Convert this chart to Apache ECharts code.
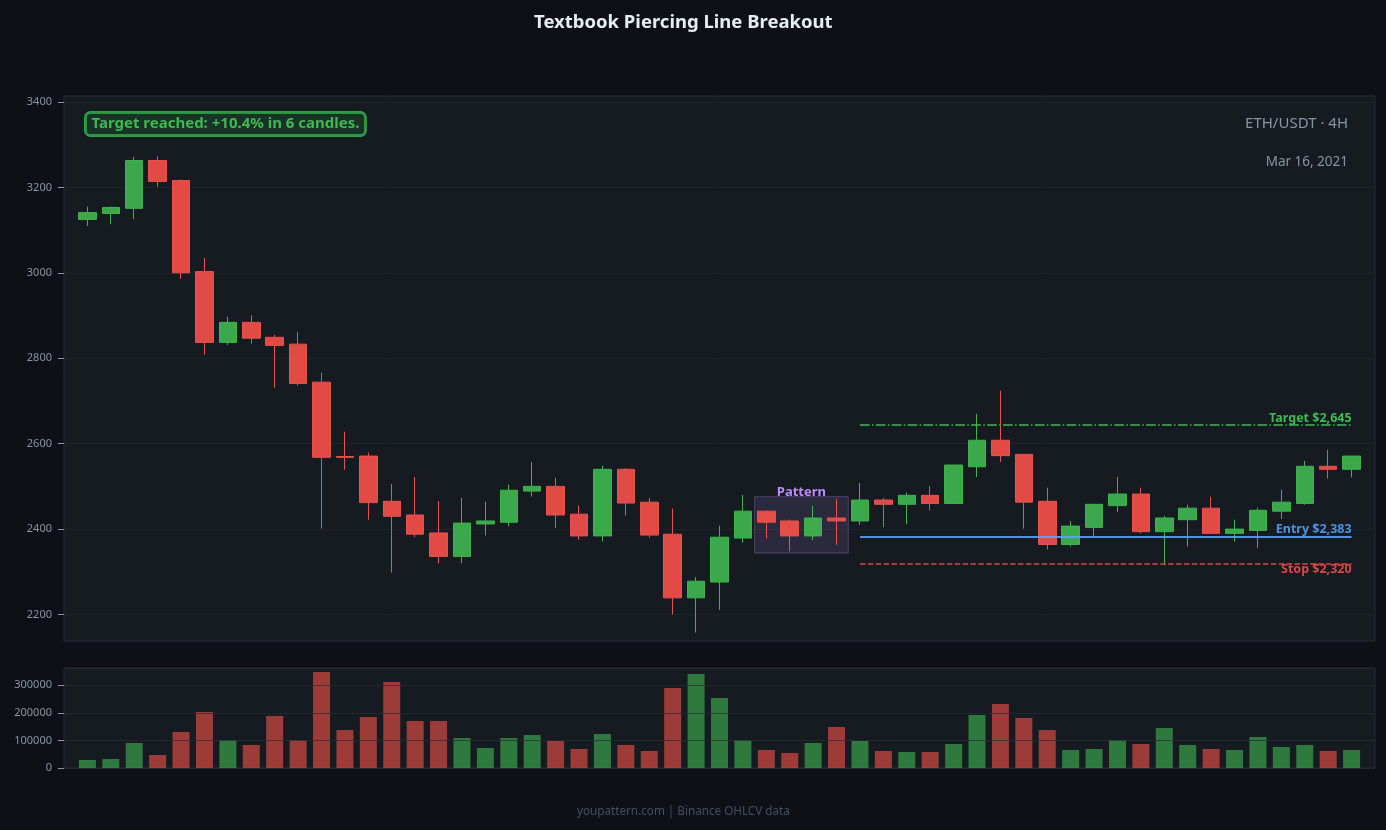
<!DOCTYPE html>
<html>
<head>
<meta charset="utf-8">
<title>Textbook Piercing Line Breakout</title>
<script src="https://cdn.jsdelivr.net/npm/echarts@6/dist/echarts.min.js"></script>
<style>
  html, body { margin: 0; padding: 0; background: #0d1117; }
  #chart { width: 1386px; height: 830px; }
</style>
</head>
<body>
<div id="chart"></div>
<script>
var opens  = [3125, 3139, 3151, 3263, 3216, 3003, 2837, 2884, 2849, 2833,
              2744, 2570, 2571, 2465, 2433, 2391, 2336, 2412, 2416, 2489,
              2500, 2435, 2384, 2540, 2463, 2388, 2239, 2276, 2379, 2442,
              2419, 2384, 2426, 2419, 2468, 2458, 2479, 2460, 2546, 2608,
              2575, 2465, 2364, 2404, 2455, 2482, 2394, 2422, 2449, 2390,
              2397, 2442, 2460, 2547, 2540];
var closes = [3141, 3153, 3263, 3214, 3000, 2837, 2884, 2847, 2830, 2741,
              2568, 2568, 2462, 2430, 2388, 2336, 2414, 2419, 2491, 2500,
              2433, 2384, 2540, 2461, 2386, 2239, 2278, 2381, 2442, 2416,
              2384, 2426, 2419, 2468, 2458, 2479, 2460, 2550, 2608, 2572,
              2463, 2364, 2407, 2458, 2482, 2394, 2426, 2449, 2390, 2400,
              2444, 2463, 2547, 2540, 2571];
var lows   = [3110, 3114, 3126, 3201, 2986, 2808, 2831, 2834, 2731, 2736,
              2401, 2539, 2422, 2298, 2381, 2320, 2320, 2385, 2406, 2476,
              2403, 2375, 2371, 2432, 2380, 2200, 2158, 2211, 2368, 2378,
              2348, 2374, 2363, 2410, 2404, 2412, 2444, 2460, 2522, 2557,
              2401, 2352, 2359, 2384, 2440, 2390, 2315, 2359, 2390, 2371,
              2356, 2424, 2457, 2518, 2521];
var highs  = [3155, 3155, 3271, 3273, 3219, 3035, 2897, 2901, 2855, 2862,
              2766, 2628, 2579, 2506, 2522, 2466, 2473, 2464, 2504, 2557,
              2520, 2455, 2548, 2543, 2473, 2448, 2288, 2408, 2480, 2444,
              2422, 2455, 2471, 2508, 2473, 2486, 2501, 2550, 2670, 2724,
              2575, 2497, 2419, 2458, 2522, 2497, 2431, 2457, 2476, 2422,
              2450, 2492, 2560, 2586, 2571];
var volumes = [29000, 32700, 90700, 47200, 130700, 203200, 101600, 83500, 188700, 101600,
               348400, 137900, 185100, 312100, 170600, 170600, 108900, 72600, 108900, 119800,
               98000, 69000, 123400, 83500, 61700, 290300, 341200, 254000, 101600, 65300,
               54400, 90700, 148800, 98000, 61700, 58100, 58100, 87100, 192400, 232300,
               181500, 137900, 65300, 69000, 101600, 87100, 145200, 83500, 69000, 65300,
               112500, 76200, 83500, 61700, 65300];

var patternRange = [28.5, 32.5];     // candle index span of the pattern
var levelStart = 33, levelEnd = 54;  // trade levels drawn after the pattern
var targetPrice = 2645, entryPrice = 2383, stopPrice = 2320;

var UP = '#3fb950', DOWN = '#f85149';
var TEXT = '#8b949e';

var candleData = [];
var volData = [];
for (var i = 0; i < opens.length; i++) {
    candleData.push([i, opens[i], closes[i], lows[i], highs[i]]);
    var up = closes[i] >= opens[i];
    volData.push({
        value: [i, volumes[i]],
        itemStyle: { color: up ? 'rgba(63,185,80,0.6)' : 'rgba(248,81,73,0.6)' }
    });
}

function plain(v) { return String(v); }  // no thousands separators

var myChart = echarts.init(document.getElementById('chart'), null, { renderer: 'canvas' });

var option = {
    backgroundColor: '#0d1117',
    animation: false,
    textStyle: { fontFamily: 'Noto Sans' },
    title: [{
        text: 'Textbook Piercing Line Breakout',
        left: 529,
        top: 8,
        textStyle: { color: '#e6edf3', fontSize: 18.5, fontWeight: 'bold', fontFamily: 'Noto Sans' }
    }, {
        text: 'youpattern.com | Binance OHLCV data',
        left: 572,
        top: 801,
        textStyle: { color: '#484f58', fontSize: 11.7, fontWeight: 'normal', fontFamily: 'Noto Sans' }
    }],
    grid: [{
        left: 64, right: 11, top: 96, height: 545,
        show: true, backgroundColor: '#161b22', borderColor: '#262c34', borderWidth: 1
    }, {
        left: 64, right: 11, top: 668, height: 100,
        show: true, backgroundColor: '#161b22', borderColor: '#262c34', borderWidth: 1
    }],
    xAxis: [{
        type: 'value', gridIndex: 0, min: -1, max: 55,
        axisLine: { show: false }, axisTick: { show: false },
        axisLabel: { show: false }, splitLine: { show: false }
    }, {
        type: 'value', gridIndex: 1, min: -1, max: 55,
        axisLine: { show: false }, axisTick: { show: false },
        axisLabel: { show: false }, splitLine: { show: false }
    }],
    yAxis: [{
        type: 'value', gridIndex: 0, min: 2138, max: 3414, splitNumber: 6,
        axisLine: { show: false, onZero: false },
        axisTick: { show: true, length: 6, lineStyle: { color: TEXT } },
        axisLabel: { color: TEXT, fontSize: 11, margin: 12, formatter: plain,
                     showMinLabel: false, showMaxLabel: false },
        splitLine: { show: true, lineStyle: { color: '#1f242b', width: 1 } }
    }, {
        type: 'value', gridIndex: 1, min: 0, max: 362750, interval: 100000,
        z: 5,
        axisLine: { show: false, onZero: false },
        axisTick: { show: true, length: 6, lineStyle: { color: TEXT } },
        axisLabel: { color: TEXT, fontSize: 11, margin: 12, formatter: plain, showMaxLabel: false },
        splitLine: { show: true, lineStyle: { color: 'rgba(40,45,52,0.75)', width: 1 } }
    }],
    series: [{
        name: 'ETH/USDT',
        type: 'candlestick',
        xAxisIndex: 0, yAxisIndex: 0,
        barWidth: 18,
        encode: { x: 0, y: [1, 2, 3, 4] },
        data: candleData,
        itemStyle: {
            color: 'rgba(63,185,80,0.9)', color0: 'rgba(248,81,73,0.9)',
            borderColor: '#3cb44b', borderColor0: '#e5534b', borderWidth: 1
        },
        markArea: {
            silent: true,
            itemStyle: { color: 'rgba(188,140,255,0.13)', borderColor: 'rgba(188,140,255,0.3)', borderWidth: 1 },
            label: {
                show: true, position: 'top', distance: -3,
                color: '#bc8cff', fontSize: 13, fontWeight: 'bold'
            },
            data: [[
                { name: 'Pattern', coord: [patternRange[0], 2476] },
                { coord: [patternRange[1], 2344] }
            ]]
        },
        markLine: {
            silent: true,
            symbol: ['none', 'none'],
            animation: false,
            data: [
                [{ coord: [levelStart, targetPrice],
                   lineStyle: { color: UP, width: 1.5, type: [9.6, 2.4, 1.5, 2.4] },
                   label: { show: true, position: 'insideEndTop', formatter: 'Target $2,645',
                            color: UP, fontSize: 12.5, fontWeight: 'bold', distance: [0, 0] } },
                 { coord: [levelEnd, targetPrice] }],
                [{ coord: [levelStart, entryPrice],
                   lineStyle: { color: '#58a6ff', width: 2, type: 'solid', opacity: 0.85 },
                   label: { show: true, position: 'insideEndTop', formatter: 'Entry $2,383',
                            color: '#58a6ff', fontSize: 12.5, fontWeight: 'bold', distance: [0, 0] } },
                 { coord: [levelEnd, entryPrice] }],
                [{ coord: [levelStart, stopPrice],
                   lineStyle: { color: DOWN, width: 1.5, type: [5.5, 2.4], opacity: 0.85 },
                   label: { show: true, position: 'insideEndBottom', formatter: 'Stop $2,320',
                            color: DOWN, fontSize: 12.5, fontWeight: 'bold', distance: [0, 0] } },
                 { coord: [levelEnd, stopPrice] }]
            ]
        }
    }, {
        name: 'Volume',
        type: 'bar',
        xAxisIndex: 1, yAxisIndex: 1,
        barWidth: 17,
        data: volData
    }],
    graphic: [{
        type: 'text',
        left: 84, top: 111,
        style: {
            text: 'Target reached: +10.4% in 6 candles.',
            fill: '#3fb950',
            font: 'bold 15px "Noto Sans"',
            backgroundColor: 'rgba(31,111,56,0.28)',
            borderColor: '#2ea043',
            borderWidth: 1.5,
            borderRadius: 5,
            padding: [4, 6, 4, 6]
        }
    }, {
        type: 'text',
        right: 38, top: 116,
        style: { text: 'ETH/USDT · 4H', fill: TEXT, font: '15px "Noto Sans"', textAlign: 'right' }
    }, {
        type: 'text',
        right: 38, top: 155,
        style: { text: 'Mar 16, 2021', fill: TEXT, font: '13.5px "Noto Sans"', textAlign: 'right' }
    }]
};

myChart.setOption(option);
</script>
</body>
</html>
